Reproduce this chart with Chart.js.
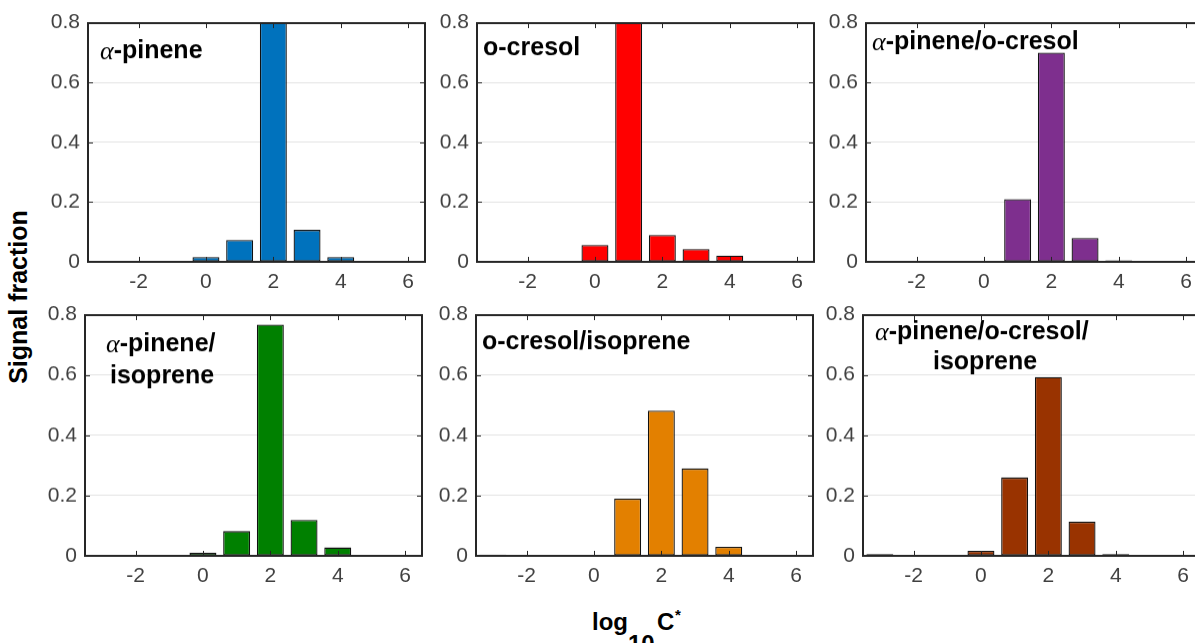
<!DOCTYPE html>
<html>
<head>
<meta charset="utf-8">
<script src="https://cdn.jsdelivr.net/npm/chart.js@4.4.1/dist/chart.umd.min.js"></script>
<style>
  body { margin: 0; width: 1195px; height: 643px; overflow: hidden; background: #fff; position: relative;
         font-family: "Liberation Sans", Arial, sans-serif; }
  .panel { position: absolute; }
  .lab { position: absolute; font-weight: bold; color: #000; line-height: 1; white-space: nowrap; }
  #ylab { left: 18px; top: 297px; font-size: 25px; transform: translate(-50%, -50%) rotate(-90deg); }
</style>
</head>
<body>
<div id="ylab" class="lab">Signal fraction</div>
<span class="lab" style="left:592px; top:610px; font-size:24px;">log</span>
<span class="lab" style="left:628px; top:632px; font-size:24px;">10</span>
<span class="lab" style="left:657px; top:610px; font-size:24px;">C</span>
<span class="lab" style="left:675px; top:607px; font-size:15px;">*</span>

<script>
// bin centres (log10 C*) and tick labels
const xValues = [-3, -2, -1, 0, 1, 2, 3, 4, 5, 6];
const xTicks = [-2, 0, 2, 4, 6];
const yTicks = [0, 0.2, 0.4, 0.6, 0.8];

// signal fraction per bin, one list per system
const aPinene         = [0, 0, 0, 0.016, 0.073, 0.80, 0.107, 0.016, 0, 0];
const oCresol         = [0, 0, 0, 0.056, 0.80, 0.090, 0.043, 0.021, 0, 0];
const aPineneCresol   = [0.003, 0, 0, 0, 0.210, 0.700, 0.080, 0.005, 0.001, 0];
const aPineneIsoprene = [0, 0, 0, 0.011, 0.082, 0.767, 0.119, 0.028, 0, 0];
const cresolIsoprene  = [0.004, 0.001, 0.001, 0.001, 0.190, 0.482, 0.290, 0.030, 0.002, 0.002];
const allThree        = [0.006, 0, 0, 0.017, 0.260, 0.593, 0.113, 0.006, 0.002, 0];

const series = [aPinene, oCresol, aPineneCresol, aPineneIsoprene, cresolIsoprene, allThree];
const titles = [
  ["α-pinene"],
  ["o-cresol"],
  ["α-pinene/o-cresol"],
  ["α-pinene/", "isoprene"],
  ["o-cresol/isoprene"],
  ["α-pinene/o-cresol/", "isoprene"]
];
const colors = ["#0072BD", "#FF0000", "#7E2F8E", "#008000", "#E38000", "#993300"];

// layout: plot area of each panel (px) and title offsets inside it
const plotW = 337;
const panelPos = [
  [88, 23, 239], [477, 23, 239], [866, 23, 239],
  [85, 315, 241], [476, 315, 241], [863, 315, 241]
];
const titlePos = [
  [[12, 29]], [[6, 26]], [[6, 20]],
  [[21, 30], [25, 62]], [[6, 28]], [[12, 18], [70, 48]]
];

const FONT = '"Liberation Sans", Arial, sans-serif';
const Y_AXIS_W = 60, X_AXIS_H = 42;

// axes box with inward ticks, and the panel title
const boxPlugin = {
  id: 'panelBox',
  afterDraw(chart, args, opts) {
    const ctx = chart.ctx;
    const a = chart.chartArea;
    const sx = chart.scales.x, sy = chart.scales.y;
    const L = Math.round(a.left), R = Math.round(a.right);
    const T = Math.round(a.top), B = Math.round(a.bottom);
    ctx.save();
    ctx.fillStyle = '#262626';
    ctx.fillRect(L - 1, T - 1, R - L + 2, 2);
    ctx.fillRect(L - 1, B - 1, R - L + 2, 2);
    ctx.fillRect(L - 1, T - 1, 2, B - T + 2);
    ctx.fillRect(R - 1, T - 1, 2, B - T + 2);
    xTicks.forEach(v => {
      const px = Math.round(sx.getPixelForValue(v));
      ctx.fillRect(px, B - 5, 1, 5);
      ctx.fillRect(px, T, 1, 5);
    });
    yTicks.forEach(v => {
      const py = Math.round(sy.getPixelForValue(v));
      ctx.fillRect(L, py, 5, 1);
      ctx.fillRect(R - 5, py, 5, 1);
    });

    const i = opts.index;
    ctx.fillStyle = '#000';
    ctx.textBaseline = 'middle';
    titles[i].forEach((line, k) => {
      let x = a.left + titlePos[i][k][0];
      const y = a.top + titlePos[i][k][1];
      let rest = line;
      if (line.startsWith('α')) {
        ctx.font = 'italic 26px "Liberation Serif", serif';
        ctx.fillText('α', x, y + 1);
        x += ctx.measureText('α').width;
        rest = line.slice(1);
      }
      ctx.font = 'bold 25px ' + FONT;
      ctx.fillText(rest, x, y);
    });
    ctx.restore();
  }
};

function config(i) {
  return {
    type: 'bar',
    data: {
      datasets: [{
        data: xValues.map((x, k) => ({ x: x, y: series[i][k] })),
        backgroundColor: colors[i],
        borderColor: '#111',
        borderWidth: 1.3,
        borderSkipped: false,
        barPercentage: 0.8,
        categoryPercentage: 1
      }]
    },
    options: {
      responsive: false,
      animation: false,
      layout: { padding: { top: 0, right: 8, left: 0, bottom: 0 } },
      plugins: { legend: { display: false }, tooltip: { enabled: false }, panelBox: { index: i } },
      scales: {
        x: {
          type: 'linear', min: -3.5, max: 6.5, offset: false,
          afterBuildTicks: s => { s.ticks = xTicks.map(v => ({ value: v })); },
          afterFit: s => { s.height = X_AXIS_H; },
          grid: { display: false, drawTicks: false },
          border: { display: false },
          ticks: { color: '#404040', font: { size: 21, family: FONT }, padding: 8, autoSkip: false, maxRotation: 0 }
        },
        y: {
          min: 0, max: 0.8,
          afterBuildTicks: s => { s.ticks = yTicks.map(v => ({ value: v })); },
          afterFit: s => { s.width = Y_AXIS_W; },
          grid: { color: '#e3e3e3', drawTicks: false },
          border: { display: false },
          ticks: { color: '#404040', font: { size: 21, family: FONT }, padding: 8, callback: v => String(v) }
        }
      }
    },
    plugins: [boxPlugin]
  };
}

panelPos.forEach((p, i) => {
  const [left, top, plotH] = p;
  const wrap = document.createElement('div');
  wrap.className = 'panel';
  document.body.appendChild(wrap);
  const cv = document.createElement('canvas');
  wrap.appendChild(cv);

  let W = Y_AXIS_W + plotW + 8, H = 14 + plotH + X_AXIS_H;
  cv.width = W; cv.height = H;
  let chart = new Chart(cv, config(i));
  const a = chart.chartArea;
  const dw = plotW - (a.right - a.left), dh = plotH - (a.bottom - a.top);
  if (dw || dh) {
    chart.destroy();
    W += dw; H += dh;
    cv.width = W; cv.height = H;
    cv.style.width = W + 'px'; cv.style.height = H + 'px';
    chart = new Chart(cv, config(i));
  }
  const b = chart.chartArea;
  wrap.style.left = (left - b.left) + 'px';
  wrap.style.top = (top - b.top) + 'px';
});
</script>
</body>
</html>
